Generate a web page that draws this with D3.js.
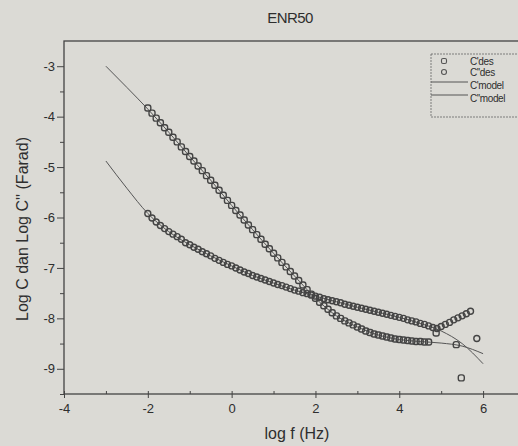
<!DOCTYPE html>
<html>
<head>
<meta charset="utf-8">
<script src="https://cdn.jsdelivr.net/npm/d3@7"></script>
<style>
  html, body { margin: 0; padding: 0; background: #dbdad5; }
  svg { display: block; font-family: "Liberation Sans", Arial, sans-serif; }
</style>
</head>
<body>
<svg id="chart" width="518" height="446"></svg>
<script>
// Measured capacitance of ENR50 vs. frequency (log10 values)
const logFreqC1 = [-2.0,-1.9,-1.8,-1.7,-1.6,-1.5,-1.4,-1.3,-1.2,-1.1,-1.0,-0.9,-0.8,-0.7,-0.6,-0.5,-0.4,-0.3,-0.2,-0.1,
  0.0,0.1,0.2,0.3,0.4,0.5,0.6,0.7,0.8,0.9,1.0,1.1,1.2,1.3,1.4,1.5,1.6,1.7,1.8,1.9,
  2.0,2.1,2.2,2.3,2.4,2.5,2.6,2.7,2.8,2.9,3.0,3.1,3.2,3.3,3.4,3.5,3.6,3.7,3.8,3.9,
  4.0,4.1,4.2,4.3,4.4,4.5,4.6,4.7,4.88,5.36,5.48];
const logC1 = [-3.83,-3.93,-4.03,-4.12,-4.22,-4.31,-4.41,-4.50,-4.60,-4.69,-4.79,-4.88,-4.98,-5.07,-5.17,-5.26,-5.36,-5.46,-5.56,-5.66,
  -5.76,-5.86,-5.95,-6.05,-6.15,-6.24,-6.34,-6.43,-6.53,-6.62,-6.71,-6.80,-6.89,-6.98,-7.07,-7.16,-7.25,-7.34,-7.43,-7.52,
  -7.60,-7.68,-7.75,-7.82,-7.89,-7.95,-8.00,-8.05,-8.09,-8.13,-8.17,-8.21,-8.25,-8.28,-8.31,-8.33,-8.35,-8.37,-8.39,-8.41,
  -8.42,-8.43,-8.44,-8.45,-8.46,-8.46,-8.47,-8.47,-8.29,-8.52,-9.18];

const logFreqC2 = [-2.0,-1.9,-1.8,-1.7,-1.6,-1.5,-1.4,-1.3,-1.2,-1.1,-1.0,-0.9,-0.8,-0.7,-0.6,-0.5,-0.4,-0.3,-0.2,-0.1,
  0.0,0.1,0.2,0.3,0.4,0.5,0.6,0.7,0.8,0.9,1.0,1.1,1.2,1.3,1.4,1.5,1.6,1.7,1.8,1.9,
  2.0,2.1,2.2,2.3,2.4,2.5,2.6,2.7,2.8,2.9,3.0,3.1,3.2,3.3,3.4,3.5,3.6,3.7,3.8,3.9,
  4.0,4.1,4.2,4.3,4.4,4.5,4.6,4.7,4.8,4.9,5.0,5.1,5.2,5.3,5.4,5.5,5.6,5.7,5.85];
const logC2 = [-5.92,-6.01,-6.09,-6.16,-6.22,-6.28,-6.33,-6.38,-6.43,-6.50,-6.54,-6.59,-6.63,-6.68,-6.72,-6.76,-6.81,-6.85,-6.89,-6.93,
  -6.96,-7.00,-7.04,-7.08,-7.11,-7.15,-7.18,-7.21,-7.24,-7.27,-7.30,-7.33,-7.35,-7.38,-7.41,-7.44,-7.46,-7.49,-7.51,-7.54,
  -7.56,-7.58,-7.61,-7.63,-7.65,-7.67,-7.69,-7.72,-7.74,-7.76,-7.78,-7.80,-7.82,-7.84,-7.86,-7.88,-7.90,-7.92,-7.94,-7.96,
  -7.98,-8.00,-8.03,-8.05,-8.07,-8.10,-8.12,-8.15,-8.18,-8.20,-8.16,-8.12,-8.08,-8.03,-7.99,-7.95,-7.91,-7.86,-8.40];

// Fitted model curves
const logFreqModel = [-3.0,-2.5,-2.0,-1.5,-1.0,-0.5,0.0,0.5,1.0,1.5,2.0,2.5,3.0,3.5,4.0,4.5,5.0,5.5,6.0];
const modelC1 = [-3.00,-3.42,-3.85,-4.31,-4.79,-5.26,-5.76,-6.24,-6.71,-7.16,-7.60,-7.95,-8.17,-8.33,-8.42,-8.46,-8.49,-8.55,-8.70];
const modelC2 = [-4.88,-5.42,-5.92,-6.28,-6.54,-6.76,-6.96,-7.15,-7.30,-7.44,-7.56,-7.67,-7.78,-7.88,-7.98,-8.10,-8.25,-8.50,-8.90];

const xTicks = [-4, -2, 0, 2, 4, 6];
const yTicks = [-3, -4, -5, -6, -7, -8, -9];
const legendLabels = ["C'des", "C''des", "C'model", "C''model"];

const svg = d3.select("#chart");
const ink = "#444";
const hyphen = d => String(d); // plain ASCII minus on tick labels

const x = d3.scaleLinear().domain([-4, 7]).range([64, 525]);
const y = d3.scaleLinear().domain([-9.5, -2.5]).range([394, 41]);

// Title
svg.append("text").attr("x", 290).attr("y", 23).attr("text-anchor", "middle")
  .attr("font-size", 15).attr("fill", "#2e2e2e").attr("letter-spacing", -0.6).text("ENR50");

// Frame
svg.append("rect").attr("x", x(-4)).attr("y", y(-2.5))
  .attr("width", x(7) - x(-4)).attr("height", y(-9.5) - y(-2.5))
  .attr("fill", "none").attr("stroke", ink).attr("stroke-width", 1.3);

// Bottom axis
const xAxis = d3.axisBottom(x).tickValues(xTicks).tickSize(4).tickFormat(hyphen);
const gx = svg.append("g").attr("transform", `translate(0,${y(-9.5)})`).call(xAxis);
gx.select(".domain").remove();
gx.selectAll(".tick line").attr("y1", -3).attr("stroke", ink);
gx.selectAll(".tick text").attr("font-size", 13).attr("fill", "#2e2e2e").attr("dy", "0.95em")
  .attr("font-family", "Liberation Sans, Arial, sans-serif");
const xMinor = d3.axisBottom(x).tickValues([-3, -1, 1, 3, 5]).tickSize(-3).tickFormat("");
const gxm = svg.append("g").attr("transform", `translate(0,${y(-9.5)})`).call(xMinor);
gxm.select(".domain").remove();
gxm.selectAll(".tick line").attr("stroke", ink);

// Left axis
const yAxis = d3.axisLeft(y).tickValues(yTicks).tickSize(7).tickPadding(2).tickFormat(hyphen);
const gy = svg.append("g").attr("transform", `translate(${x(-4)},0)`).call(yAxis);
gy.select(".domain").remove();
gy.selectAll(".tick line").attr("stroke", ink);
gy.selectAll(".tick text").attr("font-size", 13).attr("fill", "#2e2e2e")
  .attr("font-family", "Liberation Sans, Arial, sans-serif");
const yMinor = d3.axisLeft(y).tickValues([-3.5, -4.5, -5.5, -6.5, -7.5, -8.5, -9.5]).tickSize(4).tickFormat("");
const gym = svg.append("g").attr("transform", `translate(${x(-4)},0)`).call(yMinor);
gym.select(".domain").remove();
gym.selectAll(".tick line").attr("stroke", ink);

// Axis titles
svg.append("text").attr("x", 297).attr("y", 439).attr("text-anchor", "middle")
  .attr("font-size", 16).attr("fill", "#2e2e2e").text("log f (Hz)");
svg.append("text").attr("transform", "translate(28,229) rotate(-90)").attr("text-anchor", "middle")
  .attr("font-size", 16).attr("fill", "#2e2e2e").text("Log C dan Log C'' (Farad)");

// Model lines
const line = d3.line().x(d => x(d[0])).y(d => y(d[1])).curve(d3.curveMonotoneX);
const lineGroup = svg.append("g").attr("fill", "none").attr("stroke", "#555").attr("stroke-width", 1);
lineGroup.append("path").attr("d", line(d3.zip(logFreqModel, modelC1)));
lineGroup.append("path").attr("d", line(d3.zip(logFreqModel, modelC2)));

// Measured points: C' as rounded squares, C'' as circles
const s = 6;
svg.append("g").selectAll("rect").data(d3.zip(logFreqC1, logC1)).join("rect")
  .attr("x", d => x(d[0]) - s / 2).attr("y", d => y(d[1]) - s / 2)
  .attr("width", s).attr("height", s).attr("rx", 2.2)
  .attr("fill", "none").attr("stroke", "#444").attr("stroke-width", 1.4);
svg.append("g").selectAll("circle").data(d3.zip(logFreqC2, logC2)).join("circle")
  .attr("cx", d => x(d[0])).attr("cy", d => y(d[1])).attr("r", 3)
  .attr("fill", "none").attr("stroke", "#444").attr("stroke-width", 1.4);

// Legend
const lg = svg.append("g").attr("transform", "translate(431,54)");
lg.append("rect").attr("width", 100).attr("height", 63).attr("fill", "#dbdad5")
  .attr("stroke", "#666").attr("stroke-width", 0.8).attr("stroke-dasharray", "2,1");
const rowY = [7, 18, 31, 44];
lg.append("rect").attr("x", 13 - 2.5).attr("y", rowY[0] - 2.5).attr("width", 5).attr("height", 5).attr("rx", 1.5)
  .attr("fill", "none").attr("stroke", "#555").attr("stroke-width", 1.1);
lg.append("circle").attr("cx", 13).attr("cy", rowY[1]).attr("r", 2.5)
  .attr("fill", "none").attr("stroke", "#555").attr("stroke-width", 1.1);
[2, 3].forEach(i => {
  lg.append("line").attr("x1", 0).attr("x2", 37).attr("y1", rowY[i] - 3).attr("y2", rowY[i] - 3)
    .attr("stroke", "#555").attr("stroke-width", 1);
});
lg.selectAll("text.lab").data(legendLabels).join("text").attr("class", "lab")
  .attr("x", 39).attr("y", (d, i) => rowY[i] + 3.5)
  .attr("font-size", 10).attr("fill", "#2e2e2e").attr("letter-spacing", -0.4).text(d => d);
</script>
</body>
</html>
